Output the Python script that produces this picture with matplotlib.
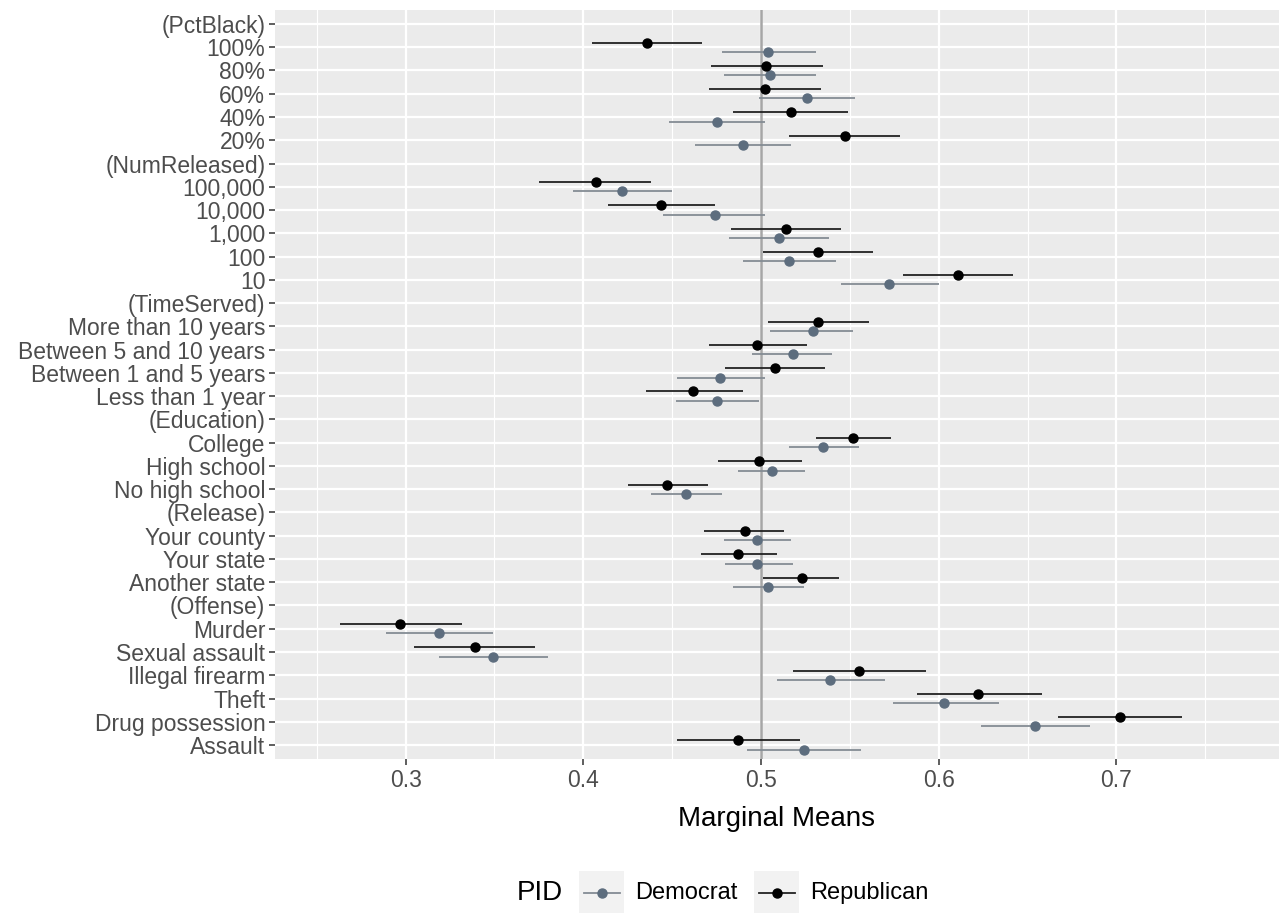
import numpy as np
import matplotlib.pyplot as plt
from matplotlib.lines import Line2D

plt.rcParams['font.family'] = ['Liberation Sans', 'DejaVu Sans']

# levels, top to bottom (headers carry no estimate)
levels = ["(PctBlack)", "100%", "80%", "60%", "40%", "20%",
          "(NumReleased)", "100,000", "10,000", "1,000", "100", "10",
          "(TimeServed)", "More than 10 years", "Between 5 and 10 years",
          "Between 1 and 5 years", "Less than 1 year",
          "(Education)", "College", "High school", "No high school",
          "(Release)", "Your county", "Your state", "Another state",
          "(Offense)", "Murder", "Sexual assault", "Illegal firearm",
          "Theft", "Drug possession", "Assault"]

nan = np.nan
rep_est = [nan, 0.436, 0.503, 0.502, 0.517, 0.547,
           nan, 0.407, 0.444, 0.514, 0.532, 0.611,
           nan, 0.532, 0.498, 0.508, 0.462,
           nan, 0.552, 0.499, 0.447,
           nan, 0.491, 0.487, 0.523,
           nan, 0.297, 0.339, 0.555, 0.622, 0.702, 0.487]
rep_lo = [nan, 0.405, 0.472, 0.471, 0.484, 0.516,
          nan, 0.375, 0.414, 0.483, 0.501, 0.580,
          nan, 0.504, 0.471, 0.480, 0.435,
          nan, 0.531, 0.476, 0.425,
          nan, 0.468, 0.466, 0.501,
          nan, 0.263, 0.305, 0.518, 0.588, 0.667, 0.453]
rep_hi = [nan, 0.467, 0.535, 0.534, 0.549, 0.578,
          nan, 0.438, 0.474, 0.545, 0.563, 0.642,
          nan, 0.561, 0.526, 0.536, 0.490,
          nan, 0.573, 0.523, 0.470,
          nan, 0.513, 0.509, 0.544,
          nan, 0.332, 0.373, 0.593, 0.658, 0.737, 0.522]

dem_est = [nan, 0.504, 0.505, 0.526, 0.475, 0.490,
           nan, 0.422, 0.474, 0.510, 0.516, 0.572,
           nan, 0.529, 0.518, 0.477, 0.475,
           nan, 0.535, 0.506, 0.458,
           nan, 0.498, 0.498, 0.504,
           nan, 0.319, 0.349, 0.539, 0.603, 0.654, 0.524]
dem_lo = [nan, 0.478, 0.479, 0.499, 0.448, 0.463,
          nan, 0.394, 0.445, 0.482, 0.490, 0.545,
          nan, 0.505, 0.495, 0.453, 0.452,
          nan, 0.516, 0.487, 0.438,
          nan, 0.479, 0.480, 0.484,
          nan, 0.289, 0.319, 0.509, 0.574, 0.624, 0.492]
dem_hi = [nan, 0.531, 0.531, 0.553, 0.502, 0.517,
          nan, 0.450, 0.502, 0.538, 0.542, 0.600,
          nan, 0.552, 0.540, 0.502, 0.499,
          nan, 0.555, 0.525, 0.478,
          nan, 0.517, 0.518, 0.524,
          nan, 0.349, 0.380, 0.570, 0.634, 0.685, 0.556]

dem_col = "#5d6d7e"
dem_line = "#848c94"
rep_col = "black"
rep_line = "#222222"
txt_col = "#4d4d4d"

n = len(levels)
y = np.arange(n)[::-1].astype(float)

fig = plt.figure(figsize=(12.88, 9.13), dpi=100)
ax = fig.add_axes([275 / 1288, 1 - 759 / 913, (1279 - 275) / 1288, (759 - 10) / 913])
ax.set_facecolor("#ebebeb")
for s in ax.spines.values():
    s.set_visible(False)

ax.set_xlim(0.2265, 0.7915)
ax.set_ylim(-0.6, n - 1 + 0.6)
ax.set_xticks([0.3, 0.4, 0.5, 0.6, 0.7])
ax.set_xticklabels(["0.3", "0.4", "0.5", "0.6", "0.7"])
ax.set_xticks([0.25, 0.35, 0.45, 0.55, 0.65, 0.75], minor=True)
ax.set_yticks(y)
ax.set_yticklabels(levels)
ax.grid(True, which="major", color="white", lw=1.6)
ax.grid(True, which="minor", axis="x", color="white", lw=0.8)
ax.set_axisbelow(True)
ax.tick_params(axis="both", which="major", length=4, width=1.1, color="#333333",
               labelsize=16.5, labelcolor=txt_col, pad=3)
ax.tick_params(axis="x", which="minor", length=0)

ax.axvline(0.5, color="#a6a6a6", lw=1.8, zorder=1.5)

off = 0.2
ax.hlines(y - off, dem_lo, dem_hi, color=dem_line, lw=1.3, zorder=2)
ax.plot(dem_est, y - off, "o", color=dem_col, ms=6.5, zorder=3)
ax.hlines(y + off, rep_lo, rep_hi, color=rep_line, lw=1.3, zorder=2)
ax.plot(rep_est, y + off, "o", color=rep_col, ms=6.5, zorder=3)

ax.set_xlabel("Marginal Means", fontsize=20, color="black", labelpad=10)

# legend
fig.text(517 / 1288, 1 - 893 / 913, "PID", fontsize=20, va="center", ha="left")
keys = [(579, dem_line, dem_col, "Democrat"), (754, rep_line, rep_col, "Republican")]
for x0, lc, pc, lab in keys:
    kax = fig.add_axes([x0 / 1288, 1 - 915 / 913, 45 / 1288, 44 / 913])
    kax.set_facecolor("#f2f2f2")
    kax.set_xlim(0, 1)
    kax.set_ylim(0, 1)
    kax.set_xticks([])
    kax.set_yticks([])
    for s in kax.spines.values():
        s.set_visible(False)
    kax.add_line(Line2D([0.1, 0.9], [0.5, 0.5], color=lc, lw=1.3))
    kax.plot([0.5], [0.5], "o", color=pc, ms=6.5)
    fig.text((x0 + 56) / 1288, 1 - 893 / 913, lab, fontsize=17, va="center", ha="left")

fig.savefig("out.png", dpi=100)
